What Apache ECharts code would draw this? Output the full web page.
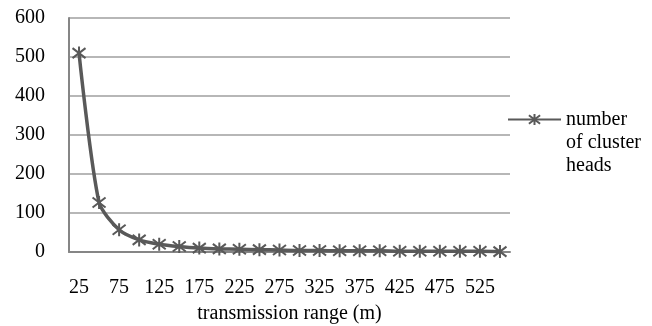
<!DOCTYPE html>
<html><head><meta charset="utf-8">
<script src="https://cdn.jsdelivr.net/npm/echarts@6/dist/echarts.min.js"></script>
<style>html,body{margin:0;padding:0;background:#fff}#c{width:652px;height:326px}</style>
</head><body><div id="c"></div>
<script>
const categories = ['25','50','75','100','125','150','175','200','225','250','275','300','325','350','375','400','425','450','475','500','525','550'];
const clusterHeads = [510, 127, 57, 31, 20, 14, 10, 8, 7, 6, 5, 4, 4, 3, 3, 3, 2, 2, 2, 2, 2, 1];
const seriesName = 'number of cluster heads';
const legendLines = ['number', 'of cluster', 'heads'];
const xTitle = 'transmission range (m)';
const yTicks = {min: 0, max: 600, interval: 100};

const font = 'Liberation Serif';
const star = 'path://M0,0 L10,10 M10,0 L0,10 M5,-1.5 L5,11.5';
const chart = echarts.init(document.getElementById('c'), null, {renderer: 'canvas'});
chart.setOption({
  animation: false,
  backgroundColor: '#fff',
  grid: {left: 69, right: 142, top: 18, bottom: 74, containLabel: false, outerBoundsMode: 'none'},
  legend: {
    data: [seriesName],
    orient: 'vertical',
    left: 502, top: 57,
    itemWidth: 53, itemHeight: 14,
    itemGap: 0,
    formatter: () => '\n\n' + legendLines.join('\n'),
    textStyle: {fontFamily: font, fontSize: 20, color: '#000', lineHeight: 23}
  },
  xAxis: {
    type: 'category',
    data: categories,
    boundaryGap: true,
    axisLine: {lineStyle: {color: '#868686', width: 2}},
    axisTick: {show: false},
    axisLabel: {interval: 1, color: '#000', fontFamily: font, fontSize: 20, margin: 26},
    name: xTitle,
    nameLocation: 'middle',
    nameGap: 52,
    nameTextStyle: {color: '#000', fontFamily: font, fontSize: 20}
  },
  yAxis: {
    type: 'value',
    min: yTicks.min, max: yTicks.max, interval: yTicks.interval,
    axisLine: {show: true, lineStyle: {color: '#868686', width: 2}},
    axisTick: {show: false},
    axisLabel: {color: '#000', fontFamily: font, fontSize: 20, margin: 24},
    splitLine: {lineStyle: {color: '#9f9f9f', width: 1.5}}
  },
  series: [{
    name: seriesName,
    type: 'line',
    data: clusterHeads,
    smooth: 0.25,
    symbol: star,
    symbolSize: 13,
    showAllSymbol: true,
    lineStyle: {color: '#595959', width: 3.5},
    itemStyle: {color: 'none', borderColor: '#595959', borderWidth: 2}
  }]
});
</script></body></html>
